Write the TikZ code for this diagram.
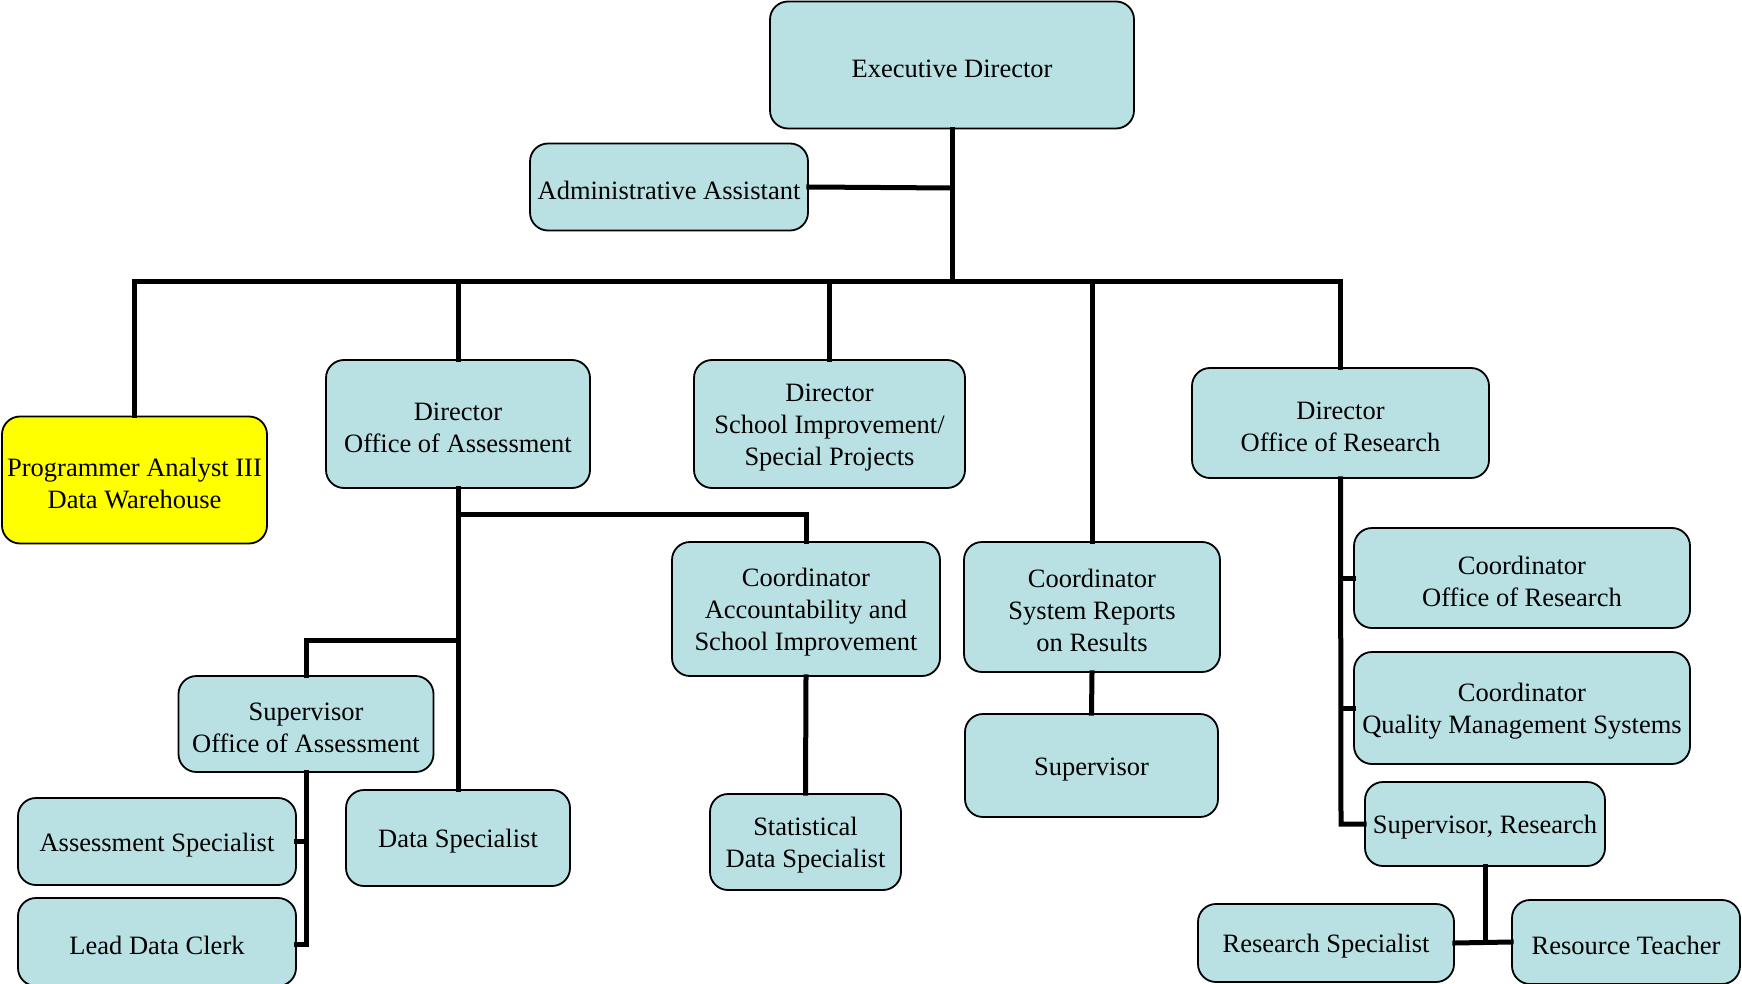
\documentclass[tikz,border=0pt]{standalone}
\usepackage{fontspec}
\setmainfont{Liberation Serif}
\definecolor{boxfill}{HTML}{B9E0E3}
\definecolor{hilite}{HTML}{FFFF00}
% strut that sets the text a little lower inside each box
\newcommand{\toppad}{\rule{0pt}{25pt}}
\begin{document}
\begin{tikzpicture}[x=1pt,y=-1pt,
  box/.style={draw=black, line width=1.8pt, fill=boxfill, rounded corners=18pt,
    inner sep=0pt, align=center, font=\fontsize{26.5}{32}\selectfont},
  link/.style={line width=5pt, line cap=rect}]
\useasboundingbox (0,0) rectangle (1742,984);

% boxes
\node[box, minimum width=364pt, minimum height=127pt] (ed)  at (952,65)    {\toppad Executive Director};
\node[box, minimum width=278pt, minimum height=87pt]  (aa)  at (669,187)   {\toppad Administrative Assistant};
\node[box, fill=hilite, minimum width=265pt, minimum height=127pt] (pa) at (134.5,480) {\toppad Programmer Analyst III\\Data Warehouse};
\node[box, minimum width=264pt, minimum height=128pt] (doa) at (458,424)   {\toppad Director\\Office of Assessment};
\node[box, minimum width=271pt, minimum height=128pt] (dsi) at (829.5,424) {\toppad Director\\School Improvement/\\Special Projects};
\node[box, minimum width=297pt, minimum height=110pt] (dor) at (1340.5,423) {\toppad Director\\Office of Research};
\node[box, minimum width=268pt, minimum height=134pt] (cas) at (806,609)   {\toppad Coordinator\\Accountability and\\School Improvement};
\node[box, minimum width=256pt, minimum height=130pt] (csr) at (1092,607)  {\toppad Coordinator\\System Reports\\on Results};
\node[box, minimum width=253pt, minimum height=103pt] (sup) at (1091.5,765.5) {\toppad Supervisor};
\node[box, minimum width=255pt, minimum height=96pt]  (soa) at (306,724)   {\toppad Supervisor\\Office of Assessment};
\node[box, minimum width=224pt, minimum height=96pt]  (ds)  at (458,838)   {\toppad Data Specialist};
\node[box, minimum width=278pt, minimum height=87pt]  (as)  at (157,841.5) {\toppad Assessment Specialist};
\node[box, minimum width=278pt, minimum height=88pt]  (ldc) at (157,942)   {\toppad Lead Data Clerk};
\node[box, minimum width=191pt, minimum height=96pt]  (sds) at (805.5,842) {\toppad Statistical\\Data Specialist};
\node[box, minimum width=336pt, minimum height=100pt] (cor) at (1522,578)  {\toppad Coordinator\\Office of Research};
\node[box, minimum width=336pt, minimum height=112pt] (cqm) at (1522,708)  {\toppad Coordinator\\Quality Management Systems};
\node[box, minimum width=240pt, minimum height=84pt]  (sr)  at (1485,824)  {\toppad Supervisor, Research};
\node[box, minimum width=256pt, minimum height=78pt]  (rs)  at (1326,943)  {\toppad Research Specialist};
\node[box, minimum width=228pt, minimum height=84pt]  (rt)  at (1626,942)  {\toppad Resource Teacher};

% junction points
\coordinate (bus)  at (952,282);
\coordinate (aaj)  at (952,188);
\coordinate (casj) at (458,514);
\coordinate (soaj) at (458,640);
\coordinate (asj)  at (306,841.5);
\coordinate (ldcj) at (306,944);
\coordinate (corj) at (1341,578);
\coordinate (cqmj) at (1341,708);
\coordinate (srj)  at (1341,824);
\coordinate (rsj)  at (1485,942);

% top level
\draw[link] (ed.south) -- (bus);
\draw[link] (aa.east) -- (aaj);
\draw[link] (pa.north) -- (pa.north |- bus) -| (dor.north);
\draw[link] (doa.north) -- (doa.north |- bus);
\draw[link] (dsi.north) -- (dsi.north |- bus);
\draw[link] (csr.north) -- (csr.north |- bus);

% office of assessment
\draw[link] (doa.south) -- (ds.north);
\draw[link] (casj) -| (cas.north);
\draw[link] (soaj) -| (soa.north);
\draw[link] (soa.south) -- (ldcj) -- (ldcj -| ldc.east);
\draw[link] (as.east) -- (asj);

% school improvement and reports
\draw[link] (cas.south) -- (sds.north);
\draw[link] (csr.south) -- (sup.north);

% office of research
\draw[link] (dor.south) -- (srj) -- (sr.west);
\draw[link] (corj) -- (cor.west);
\draw[link] (cqmj) -- (cqm.west);
\draw[link] (sr.south) -- (rsj);
\draw[link] (rs.east) -- (rt.west);
\end{tikzpicture}
\end{document}
